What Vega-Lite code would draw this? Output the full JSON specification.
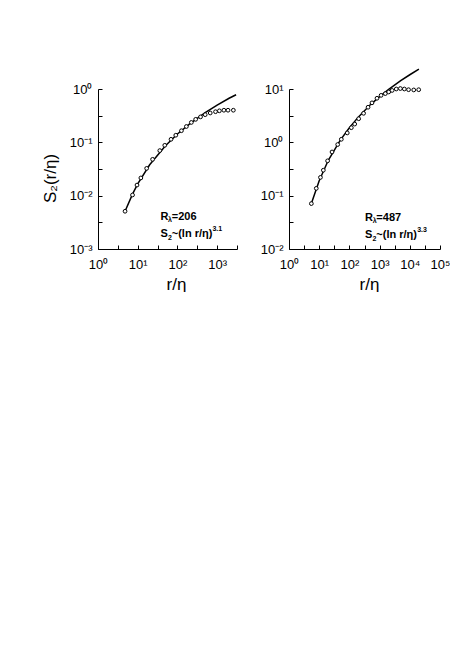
{
  "$schema": "https://vega.github.io/schema/vega-lite/v6.json",
  "padding": {"left": 41, "top": 66, "right": 0, "bottom": 0},
  "background": "white",
  "spacing": 52,
  "bounds": "flush",
  "config": {
    "view": {"stroke": null},
    "font": "Liberation Sans",
    "axis": {
      "domainColor": "black", "tickColor": "black", "labelColor": "black", "titleColor": "black",
      "domainWidth": 1, "tickWidth": 1, "grid": false, "tickSize": -4,
      "labelFontSize": 13, "titleFontSize": 17, "titleFontWeight": "normal",
      "labelFlush": false, "labelOverlap": false, "labelFont": "Liberation Sans", "titleFont": "Liberation Sans"
    }
  },
  "datasets": {
    "left_pts": [
      {"x": 4.8, "y": 0.0051}, {"x": 7.4, "y": 0.0103}, {"x": 9.6, "y": 0.0158}, {"x": 12, "y": 0.0215},
      {"x": 16.8, "y": 0.0325}, {"x": 23.7, "y": 0.048}, {"x": 36, "y": 0.07}, {"x": 48, "y": 0.088},
      {"x": 69, "y": 0.114}, {"x": 91, "y": 0.136}, {"x": 126, "y": 0.165}, {"x": 168, "y": 0.198},
      {"x": 224, "y": 0.236}, {"x": 288, "y": 0.27}, {"x": 382, "y": 0.30}, {"x": 500, "y": 0.33},
      {"x": 670, "y": 0.355}, {"x": 910, "y": 0.375}, {"x": 1140, "y": 0.39}, {"x": 1480, "y": 0.40},
      {"x": 1880, "y": 0.40}, {"x": 2560, "y": 0.40}
    ],
    "left_line": [
      {"x": 4.8, "y": 0.0051}, {"x": 7.4, "y": 0.0107}, {"x": 10, "y": 0.0167}, {"x": 20, "y": 0.038},
      {"x": 50, "y": 0.086}, {"x": 100, "y": 0.143}, {"x": 200, "y": 0.22}, {"x": 500, "y": 0.36},
      {"x": 1000, "y": 0.50}, {"x": 2000, "y": 0.67}, {"x": 3000, "y": 0.78}
    ],
    "right_pts": [
      {"x": 5.5, "y": 0.071}, {"x": 8, "y": 0.137}, {"x": 11, "y": 0.22}, {"x": 13.7, "y": 0.30},
      {"x": 19, "y": 0.45}, {"x": 26.6, "y": 0.66}, {"x": 41, "y": 0.91}, {"x": 54, "y": 1.14},
      {"x": 85, "y": 1.5}, {"x": 116, "y": 1.88}, {"x": 150, "y": 2.2}, {"x": 203, "y": 2.77},
      {"x": 295, "y": 3.5}, {"x": 415, "y": 4.55}, {"x": 560, "y": 5.5}, {"x": 820, "y": 6.7},
      {"x": 1120, "y": 7.6}, {"x": 1550, "y": 8.2}, {"x": 2000, "y": 8.8}, {"x": 2600, "y": 9.4},
      {"x": 3570, "y": 10}, {"x": 4870, "y": 10.2}, {"x": 6600, "y": 10}, {"x": 9100, "y": 9.7},
      {"x": 13500, "y": 9.6}, {"x": 19700, "y": 9.7}
    ],
    "right_line": [
      {"x": 5.5, "y": 0.071}, {"x": 10, "y": 0.19}, {"x": 20, "y": 0.46}, {"x": 50, "y": 1.1},
      {"x": 100, "y": 1.88}, {"x": 200, "y": 3.0}, {"x": 500, "y": 5.1}, {"x": 1000, "y": 7.2},
      {"x": 2000, "y": 9.8}, {"x": 5000, "y": 14.3}, {"x": 10000, "y": 18.5}, {"x": 20000, "y": 23.5}
    ],
    "left_text": [
      {"x": 37.6, "y": 0.0040, "t": "R"}, {"x": 72, "y": 0.0040, "t": "=206"},
      {"x": 37.6, "y": 0.00193, "t": "S"}, {"x": 72, "y": 0.00193, "t": "~(ln r/η)"}
    ],
    "left_small": [
      {"x": 58, "y": 0.00352, "t": "λ"}, {"x": 57.9, "y": 0.0016, "t": "2"}, {"x": 760, "y": 0.0024, "t": "3.1"}
    ],
    "right_text": [
      {"x": 329, "y": 0.0377, "t": "R"}, {"x": 780, "y": 0.0377, "t": "=487"},
      {"x": 329, "y": 0.01866, "t": "S"}, {"x": 777, "y": 0.01866, "t": "~(ln r/η)"}
    ],
    "right_small": [
      {"x": 590, "y": 0.0334, "t": "λ"}, {"x": 582, "y": 0.0157, "t": "2"}, {"x": 17500, "y": 0.0232, "t": "3.3"}
    ]
  },
  "hconcat": [
    {
      "width": 139, "height": 160,
      "encoding": {
        "x": {"field": "x", "type": "quantitative",
          "scale": {"type": "log", "domain": [1, 3162.28], "nice": false},
          "axis": {"title": "r/η", "values": [1, 3.1623, 10, 31.623, 100, 316.23, 1000, 3162.28],
            "labelPadding": 13, "titlePadding": 5, "titleX": 78,
            "labelExpr": "datum.value == 1 ? '10⁰' : datum.value == 10 ? '10¹' : datum.value == 100 ? '10²' : datum.value == 1000 ? '10³' : ''"}},
        "y": {"field": "y", "type": "quantitative",
          "scale": {"type": "log", "domain": [0.001, 1], "nice": false},
          "axis": {"title": "S₂(r/η)", "values": [0.001, 0.0031623, 0.01, 0.031623, 0.1, 0.31623, 1],
            "labelPadding": 10, "titlePadding": 10, "titleY": 89, "titleAlign": "center",
            "labelExpr": "datum.value == 1 ? '10⁰' : datum.value == 0.1 ? '10⁻¹' : datum.value == 0.01 ? '10⁻²' : datum.value == 0.001 ? '10⁻³' : ''"}}
      },
      "layer": [
        {"data": {"name": "left_line"}, "mark": {"type": "line", "color": "black", "strokeWidth": 1.5}},
        {"data": {"name": "left_pts"}, "mark": {"type": "point", "shape": "circle", "size": 14, "filled": true, "fill": "white", "stroke": "black", "strokeWidth": 1, "opacity": 1}},
        {"data": {"name": "left_text"}, "mark": {"type": "text", "align": "left", "baseline": "middle", "fontSize": 11, "fontWeight": "bold", "color": "black"},
          "encoding": {"text": {"field": "t"}}},
        {"data": {"name": "left_small"}, "mark": {"type": "text", "align": "left", "baseline": "middle", "fontSize": 7, "fontWeight": "bold", "color": "black"},
          "encoding": {"text": {"field": "t"}}}
      ]
    },
    {
      "width": 151, "height": 160,
      "encoding": {
        "x": {"field": "x", "type": "quantitative",
          "scale": {"type": "log", "domain": [1, 100000], "nice": false},
          "axis": {"title": "r/η", "values": [1, 3.1623, 10, 31.623, 100, 316.23, 1000, 3162.3, 10000, 31623, 100000],
            "labelPadding": 13, "titlePadding": 5, "titleX": 80,
            "labelExpr": "datum.value == 1 ? '10⁰' : datum.value == 10 ? '10¹' : datum.value == 100 ? '10²' : datum.value == 1000 ? '10³' : datum.value == 10000 ? '10⁴' : datum.value == 100000 ? '10⁵' : ''"}},
        "y": {"field": "y", "type": "quantitative",
          "scale": {"type": "log", "domain": [0.01, 10], "nice": false},
          "axis": {"title": null, "values": [0.01, 0.031623, 0.1, 0.31623, 1, 3.1623, 10],
            "labelPadding": 10,
            "labelExpr": "datum.value == 10 ? '10¹' : datum.value == 1 ? '10⁰' : datum.value == 0.1 ? '10⁻¹' : datum.value == 0.01 ? '10⁻²' : ''"}}
      },
      "layer": [
        {"data": {"name": "right_line"}, "mark": {"type": "line", "color": "black", "strokeWidth": 1.5}},
        {"data": {"name": "right_pts"}, "mark": {"type": "point", "shape": "circle", "size": 14, "filled": true, "fill": "white", "stroke": "black", "strokeWidth": 1, "opacity": 1}},
        {"data": {"name": "right_text"}, "mark": {"type": "text", "align": "left", "baseline": "middle", "fontSize": 11, "fontWeight": "bold", "color": "black"},
          "encoding": {"text": {"field": "t"}}},
        {"data": {"name": "right_small"}, "mark": {"type": "text", "align": "left", "baseline": "middle", "fontSize": 7, "fontWeight": "bold", "color": "black"},
          "encoding": {"text": {"field": "t"}}}
      ]
    }
  ]
}
